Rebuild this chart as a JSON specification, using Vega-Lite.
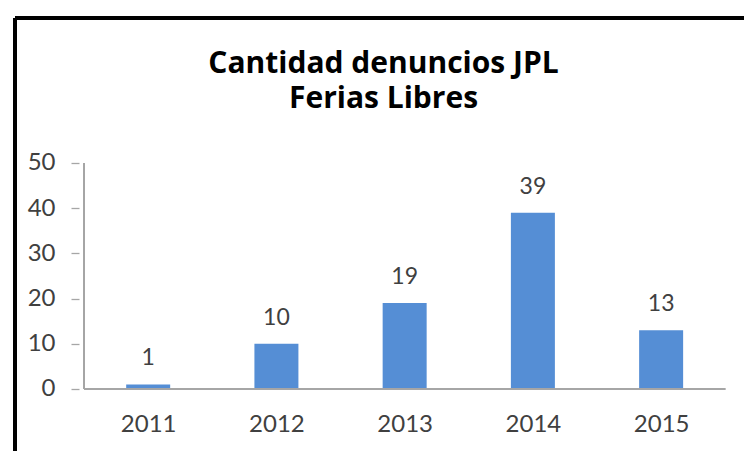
{
  "$schema": "https://vega.github.io/schema/vega-lite/v6.json",
  "width": 739,
  "height": 433,
  "autosize": {"type": "none"},
  "padding": {"left": 10, "top": 18, "right": 0, "bottom": 0},
  "background": "white",
  "config": {"view": {"stroke": null}},
  "title": {
    "text": ["Cantidad denuncios JPL", "Ferias Libres"],
    "font": "Open Sans",
    "fontSize": 30,
    "fontWeight": "bold",
    "color": "black",
    "anchor": "middle",
    "frame": "group",
    "baseline": "alphabetic",
    "lineHeight": 35,
    "offset": -122,
    "dx": 4
  },
  "data": {
    "values": [
      {"year": 2011, "count": 1},
      {"year": 2012, "count": 10},
      {"year": 2013, "count": 19},
      {"year": 2014, "count": 39},
      {"year": 2015, "count": 13}
    ]
  },
  "layer": [
    {
      "mark": {"type": "bar", "color": "#558ED5", "size": 44},
      "encoding": {
        "x": {
          "field": "year",
          "type": "quantitative",
          "scale": {"domain": [2009.9615, 2015.6462], "nice": false, "zero": false},
          "axis": {
            "values": [2011, 2012, 2013, 2014, 2015],
            "format": "d",
            "title": null,
            "domain": false,
            "ticks": false,
            "grid": false,
            "offset": -62,
            "labelFont": "Lato",
            "labelFontSize": 24,
            "labelColor": "#404040",
            "labelPadding": 23,
            "labelOverlap": false,
            "labelFlush": false
          }
        },
        "y": {
          "field": "count",
          "type": "quantitative",
          "scale": {"domain": [-13.72, 82.08], "nice": false, "zero": false},
          "axis": {
            "values": [0, 10, 20, 30, 40, 50],
            "title": null,
            "domain": false,
            "ticks": true,
            "tickSize": 8,
            "tickColor": "#a6a6a6",
            "tickWidth": 1.3,
            "grid": false,
            "offset": -69,
            "labelFont": "Lato",
            "labelFontSize": 24,
            "labelColor": "#404040",
            "labelPadding": 16,
            "labelOverlap": false,
            "labelFlush": false
          }
        },
        "y2": {"datum": 0}
      }
    },
    {
      "mark": {"type": "text", "baseline": "alphabetic", "dy": -19, "font": "Lato", "fontSize": 23, "color": "#404040"},
      "encoding": {
        "x": {"field": "year", "type": "quantitative"},
        "y": {"field": "count", "type": "quantitative"},
        "text": {"field": "count", "type": "quantitative"}
      }
    },
    {
      "mark": {"type": "rule", "color": "#a6a6a6", "strokeWidth": 1.3},
      "encoding": {
        "x": {"datum": 2010.5},
        "x2": {"datum": 2015.5},
        "y": {"datum": 0}
      }
    },
    {
      "mark": {"type": "rule", "color": "#a6a6a6", "strokeWidth": 1.3},
      "encoding": {
        "x": {"datum": 2010.5},
        "y": {"datum": 0},
        "y2": {"datum": 50}
      }
    },
    {
      "mark": {"type": "rule", "color": "black", "strokeWidth": 3.5},
      "encoding": {
        "x": {"datum": 2009.9615},
        "x2": {"datum": 2015.6462},
        "y": {"datum": 82.08}
      }
    },
    {
      "mark": {"type": "rule", "color": "black", "strokeWidth": 3.5},
      "encoding": {
        "x": {"datum": 2009.9615},
        "y": {"datum": -13.72},
        "y2": {"datum": 82.08}
      }
    }
  ]
}
